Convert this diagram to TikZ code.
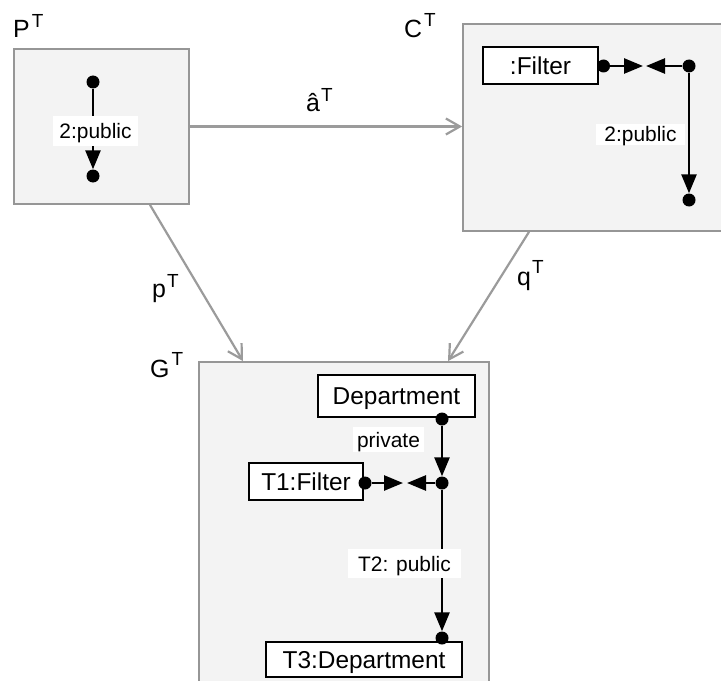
\documentclass[tikz,border=0pt]{standalone}
\usepackage{fontspec}
\setmainfont{Liberation Sans}
\usetikzlibrary{arrows.meta}
\definecolor{boxfill}{RGB}{243,243,243}
\definecolor{boxline}{RGB}{150,150,150}
\definecolor{morphgray}{RGB}{155,155,155}
\newcommand{\supT}[1]{\raisebox{#1}{\fontsize{19}{21}\selectfont T}}
\begin{document}
\begin{tikzpicture}[x=1bp,y=-1bp,
  graphbox/.style={draw=boxline, fill=boxfill, line width=1.8bp, inner sep=0pt},
  obj/.style={draw=black, fill=white, line width=1.5bp, inner sep=0pt,
    font=\fontsize{24.5}{28}\selectfont, text height=17.5bp, text depth=0bp},
  lbl/.style={fill=white, inner sep=0pt, font=\fontsize{21}{24}\selectfont,
    text height=15bp, text depth=0bp},
  dot/.style={circle, fill=black, inner sep=0pt, minimum size=13bp},
  conn/.style={draw=black, line width=2.6bp, -{Triangle[length=19bp,width=15bp]}},
  morph/.style={draw=morphgray, line width=2.2bp, -{Straight Barb[length=14bp,width=16bp,line width=2.2bp]}},
  title/.style={anchor=base west, inner sep=0pt, font=\fontsize{25}{28}\selectfont},
]
\useasboundingbox (0,0) rectangle (721,681);
\clip (0,0) rectangle (721,681);

% graph boxes
\node[graphbox, minimum width=175bp, minimum height=155bp] (P) at (101.5,126.5) {};
\node[graphbox, minimum width=317bp, minimum height=207bp] (C) at (621.5,127.5) {};
\node[graphbox, minimum width=290bp, minimum height=358bp] (G) at (344,541) {};

% titles
\node[title] (PT) at (13,38) {P\kern2bp\supT{10bp}};
\node[title] (CT) at (404,38) {C\kern2bp\supT{11bp}};
\node[title] (GT) at (150,377) {G\kern2bp\supT{12bp}};

% morphisms
\draw[morph] (P.east) -- (P.east -| C.west);
\draw[morph] ([xshift=48.5bp]P.south) -- ([xshift=-101bp]G.north);
\draw[morph] ([xshift=-92.5bp]C.south) -- ([xshift=104bp]G.north);
\node[title] (aT) at (306,112) {â\kern1bp\supT{10bp}};
\node[title] (pT) at (152,297) {p\kern1bp\supT{10bp}};
\node[title] (qT) at (517,285) {q\kern1bp\supT{12bp}};

% P contents
\node[dot] (pa) at (93,82) {};
\node[dot] (pb) at (93,176) {};
\draw[conn] (pa) -- (pb);
\node[lbl, minimum width=85bp, minimum height=30bp] (pl) at (95.5,131) {2:public};

% C contents
\node[obj, minimum width=115bp, minimum height=37bp] (cfilter) at (540.5,65.5) {:Filter};
\node[dot] (cf) at (603.5,66) {};
\node[dot] (cj) at (689,66) {};
\node[dot] (cb) at (689,200) {};
\coordinate (cm1) at (643,66);
\coordinate (cm2) at (646,66);
\draw[conn] (cf) -- (cm1);
\draw[conn] (cj) -- (cm2);
\draw[conn] (cj) -- (cb);
\node[lbl, minimum width=89bp, minimum height=21bp] (cl) at (640.5,134.5) {2:public};

% G contents
\node[obj, minimum width=157bp, minimum height=42bp] (dep) at (396.5,396) {Department};
\node[obj, minimum width=114bp, minimum height=37bp] (t1) at (306,481.5) {T1:Filter};
\node[obj, minimum width=196bp, minimum height=35bp] (t3) at (364,659.5) {T3:Department};
\node[dot] (gd) at (442,419) {};
\node[dot] (gj) at (442,483) {};
\node[dot] (gt) at (365,483) {};
\node[dot] (g3) at (442,638) {};
\coordinate (gm1) at (403,483);
\coordinate (gm2) at (407,483);
\draw[conn] (gd) -- (gj);
\draw[conn] (gt) -- (gm1);
\draw[conn] (gj) -- (gm2);
\draw[conn] (gj) -- (g3);
\node[lbl, minimum width=71bp, minimum height=25bp] (gpriv) at (388.5,439.5) {private};
\node[lbl, minimum width=113bp, minimum height=29bp] (gpub) at (404.5,563.5) {T2: public};
\end{tikzpicture}
\end{document}
